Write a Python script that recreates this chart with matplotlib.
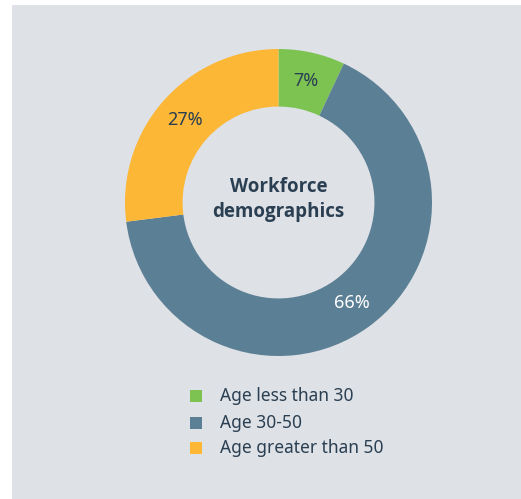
import numpy as np
import matplotlib.pyplot as plt
from matplotlib.patches import Rectangle

plt.rcParams['font.family'] = ['Noto Sans', 'DejaVu Sans']

labels = ['Age less than 30', 'Age 30-50', 'Age greater than 50']
values = [7, 66, 27]
colors = ['#7dc352', '#5b7f95', '#fbb735']
pct_colors = ['#2a3f52', 'white', '#2a3f52']
text_col = '#2a3f52'

W, H = 521, 499
fig = plt.figure(figsize=(W / 100, H / 100), dpi=100)
fig.patch.set_facecolor('white')
# grey panel
fig.patches.append(Rectangle((12 / W, 0), 1 - 12 / W, 1 - 5 / H, transform=fig.transFigure,
                             facecolor='#dee1e6', edgecolor='none', zorder=-5))

# donut axes: centre (278.5, 202.5), radius 153.5 px
cx, cy, r = 278.5, 202.5, 153.5
ax = fig.add_axes([(cx - r) / W, 1 - (cy + r) / H, 2 * r / W, 2 * r / H])
ax.patch.set_visible(False)
wedges, _ = ax.pie(values, colors=colors, startangle=90, counterclock=False,
                   radius=1, wedgeprops=dict(width=0.375, edgecolor='none'))
ax.set_aspect('equal')
ax.set_xlim(-1, 1)
ax.set_ylim(-1, 1)
ax.axis('off')

start = 90
for v, c in zip(values, pct_colors):
    mid = np.deg2rad(start - v / 2 * 3.6)
    ax.text(0.81 * np.cos(mid), 0.81 * np.sin(mid), f'{v}%', ha='center', va='center',
            fontsize=13, color=c)
    start -= v * 3.6

ax.text(0, 0.02, 'Workforce\ndemographics', ha='center', va='center', fontsize=13.5,
        fontweight='bold', family=['Open Sans', 'DejaVu Sans'], color=text_col,
        linespacing=1.3)

# legend
ys = [396, 423, 448]
for lab, c, y in zip(labels, colors, ys):
    fig.patches.append(Rectangle((190 / W, 1 - (y + 6) / H), 12 / W, 12 / H,
                                 transform=fig.transFigure, facecolor=c, edgecolor='none'))
    fig.text(220 / W, 1 - y / H, lab, ha='left', va='center', fontsize=12.5, color=text_col)

fig.savefig('out.png', dpi=100)
